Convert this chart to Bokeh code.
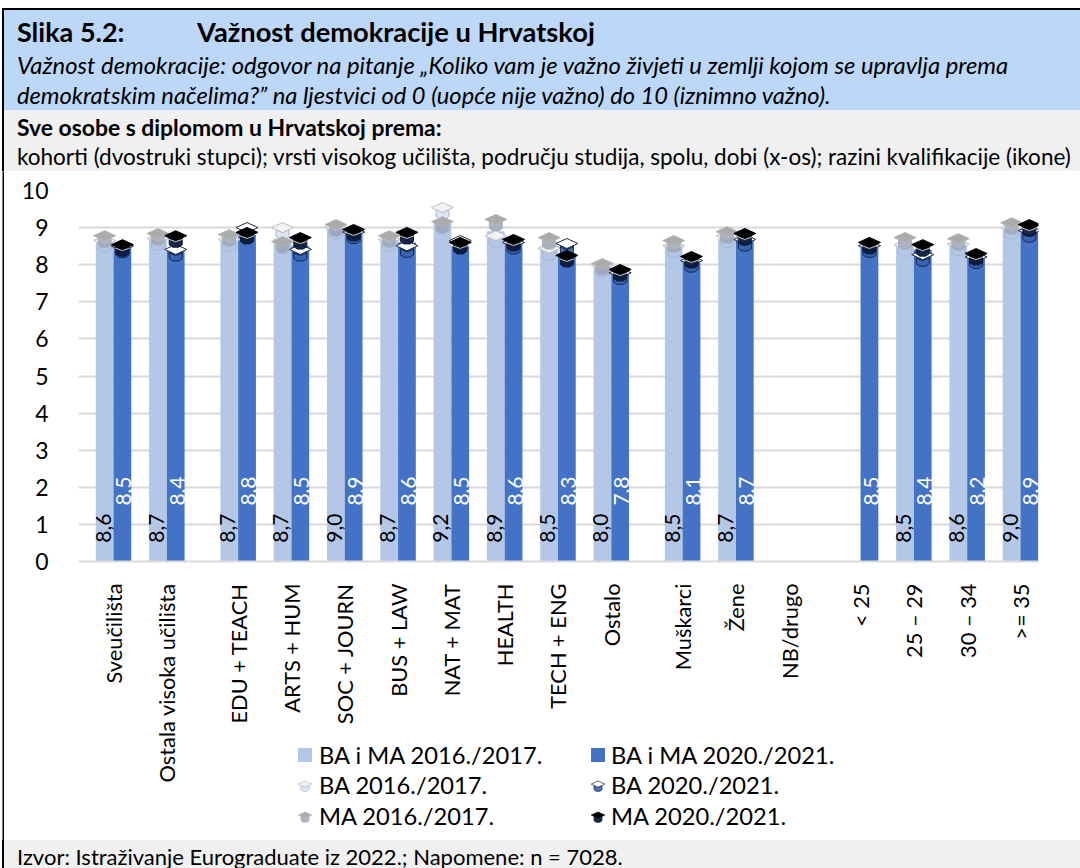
import math
from bokeh.embed import file_html
from bokeh.resources import INLINE
from bokeh.plotting import figure
from bokeh.layouts import column
from bokeh.models import Range1d, FixedTicker, Div
from bokeh.core.properties import value

FONT = "Lato"

groups = [
    ["Sveučilišta", "Ostala visoka učilišta"],
    ["EDU + TEACH", "ARTS + HUM", "SOC + JOURN", "BUS + LAW", "NAT + MAT", "HEALTH", "TECH + ENG", "Ostalo"],
    ["Muškarci", "Žene", "NB/drugo"],
    ["< 25", "25 – 29", "30 – 34", ">= 35"],
]
N = None
ba_ma_2016 = [8.6, 8.7, 8.7, 8.7, 9.0, 8.7, 9.2, 8.9, 8.5, 8.0, 8.5, 8.7, N, N, 8.5, 8.6, 9.0]
ba_ma_2020 = [8.5, 8.4, 8.8, 8.5, 8.9, 8.6, 8.5, 8.6, 8.3, 7.8, 8.1, 8.7, N, 8.5, 8.4, 8.2, 8.9]
ba_2016 = [8.57, 8.63, 8.6, 8.92, 8.92, 8.6, 9.46, 8.7, 8.36, 7.9, 8.43, 8.7, N, N, 8.46, 8.47, 8.92]
ma_2016 = [8.7, 8.76, 8.73, 8.54, 9.0, 8.7, 9.08, 9.14, 8.65, 7.95, 8.57, 8.81, N, N, 8.65, 8.62, 9.05]
ba_2020 = [8.42, 8.33, 8.92, 8.33, 8.8, 8.43, 8.57, 8.52, 8.49, 7.7, 8.03, 8.6, N, 8.43, 8.19, 8.13, 8.84]
ma_2020 = [8.46, 8.7, 8.79, 8.65, 8.87, 8.79, 8.52, 8.6, 8.17, 7.79, 8.14, 8.76, N, 8.52, 8.46, 8.22, 9.0]

legend_labels = ["BA i MA 2016./2017.", "BA i MA 2020./2021.", "BA 2016./2017.", "BA 2020./2021.", "MA 2016./2017.", "MA 2020./2021."]
title_no = "Slika 5.2:"
title = "Važnost demokracije u Hrvatskoj"
sub1 = "Važnost demokracije: odgovor na pitanje „Koliko vam je važno živjeti u zemlji kojom se upravlja prema"
sub2 = "demokratskim načelima?” na ljestvici od 0 (uopće nije važno) do 10 (iznimno važno)."
head1 = "Sve osobe s diplomom u Hrvatskoj prema:"
head2 = "kohorti (dvostruki stupci); vrsti visokog učilišta, području studija, spolu, dobi (x-os); razini kvalifikacije (ikone)"
foot = "Izvor: Istraživanje Eurograduate iz 2022.; Napomene: n = 7028."

# layout (page pixels)
W = 1080
HEAD_H, CHART_B, PAGE_H = 171, 840, 868
FL, FR, FT, FB = 78, 1038, 190, 561
GAP = 0.338
BW = 0.333
LIGHT, DARK = "#B4C7E7", "#4472C4"


def box(l, t, w, h, c):
    return f'<div style="position:absolute;left:{l}px;top:{t}px;width:{w}px;height:{h}px;background:{c}"></div>'


def line(x, y, s, size, style=""):
    return (f'<div style="position:absolute;left:{x}px;top:{y-11}px;height:22px;line-height:22px;white-space:nowrap;'
            f'font-family:{FONT};font-size:{size}px;color:#000;{style}">{s}</div>')


def panel(inner, w, h, **kw):
    return Div(text=f'<div style="position:relative;width:{w}px;height:{h}px">{inner}</div>',
               width=w, height=h, margin=kw.pop("margin", 0), **kw)


B = "font-weight:bold;"
I = "font-style:italic;"
head_html = (box(3, 9, W - 3, 101, "#BDD7F8") + box(3, 110, W - 3, HEAD_H - 110, "#F0F0F0")
             + box(2, 8, W - 2, 1.5, "#000") + box(2, 8, 1.5, HEAD_H - 8, "#000")
             + line(17, 32, title_no, 27, B) + line(197, 32, title, 27.3, B)
             + line(17, 65, sub1, 23.8, I) + line(17, 95, sub2, 23.7, I)
             + line(17, 127, head1, 22.9, B) + line(17, 157, head2, 22.5))
header = panel(head_html, W, HEAD_H)

# chart
pos, labels = [], []
for gi, g in enumerate(groups):
    for name in g:
        pos.append(len(pos) + gi * GAP)
        labels.append(name)
xr = Range1d(-0.657, pos[-1] + 0.338)
yr = Range1d(0, 10)
px_x = (xr.end - xr.start) / (FR - FL)
px_y = 10 / (FB - FT)

p = figure(width=W, height=CHART_B - HEAD_H, x_range=xr, y_range=yr, output_backend="svg", toolbar_location=None,
           min_border_left=FL, min_border_right=W - FR, min_border_top=FT - HEAD_H, min_border_bottom=CHART_B - FB,
           outline_line_color=None, background_fill_color="white", border_fill_color="white")

ax = p.xaxis[0]
ax.ticker = FixedTicker(ticks=pos)
ax.major_label_overrides = {x: n for x, n in zip(pos, labels)}
ax.major_label_orientation = math.pi / 2
ax.major_label_text_font = FONT
ax.major_label_text_font_size = "21.8px"
ax.major_label_text_color = "#000000"
ax.major_label_standoff = 16
ax.major_tick_line_color = None
ax.minor_tick_line_color = None
ax.axis_line_color = "#D9D9D9"
ax.axis_line_width = 2

ay = p.yaxis[0]
ay.ticker = FixedTicker(ticks=list(range(0, 11)))
ay.major_label_text_font = FONT
ay.major_label_text_font_size = "23px"
ay.major_label_text_color = "#000000"
ay.major_label_standoff = 24
ay.major_tick_line_color = None
ay.minor_tick_line_color = None
ay.axis_line_color = None

p.xgrid.visible = False
p.ygrid.ticker = FixedTicker(ticks=list(range(0, 11)))
p.ygrid.grid_line_color = "#D9D9D9"
p.ygrid.grid_line_width = 2


def bars(vals, off, color):
    d = [(x + off, v) for x, v in zip(pos, vals) if v is not None]
    p.vbar(x=[a for a, _ in d], top=[b for _, b in d], width=BW, fill_color=color, line_color=None)


bars(ba_ma_2016, -BW / 2, LIGHT)
bars(ba_ma_2020, BW / 2, DARK)


def val_labels(vals, off, color, y, size):
    d = [(x + off, f"{v:.1f}".replace(".", ",")) for x, v in zip(pos, vals) if v is not None]
    p.text(x=[a for a, _ in d], y=[y] * len(d), text=[b for _, b in d], angle=math.pi / 2,
           text_align="center", text_baseline="middle", text_color=color,
           text_font=value(FONT), text_font_size=f"{size}px")


val_labels(ba_ma_2016, -BW / 2 - 0.03, "#000000", 0.9, 21)
val_labels(ba_ma_2020, BW / 2 + 0.03, "#FFFFFF", 1.9, 21)

# graduation caps: shape in screen pixels, position from the data
TOP = [(-11, 3), (0, 8), (11, 3), (0, -2)]
BODY = [(-6.5, 1), (0, -2), (6.5, 1), (6.5, -6), (3, -8.5), (-3, -8.5), (-6.5, -6)]
BAND = [(-7, -0.5), (0, -3), (7, -0.5)]
STY = {
    "ba16": dict(top_fill="#F2F2F2", top_line="#BFBFBF", body_fill="#B4C7E7", body_alpha=0.45, body_line="#A6B6D4"),
    "ma16": dict(top_fill="#ABABAB", top_line="#B5B5B5", body_fill="#98A3B5", body_alpha=0.8, body_line="#A8B0BF"),
    "ba20": dict(top_fill="#FFFFFF", top_line="#1F2A44", body_fill="#3A62AE", body_alpha=0.9, body_line="#14264F", band_line="#14264F"),
    "ma20": dict(top_fill="#000000", top_line="#000000", body_fill="#0A1A3C", body_alpha=0.95, body_line="#0A1A3C", band_line="#C9C4B4"),
}


def caps(xs, ys, top_fill, top_line, body_fill, body_alpha, body_line, band_line=None):
    def shape(s):
        return ([[x + a * px_x for a, _ in s] for x in xs], [[y + b * px_y for _, b in s] for y in ys])
    bx, by = shape(BODY)
    p.patches(bx, by, fill_color=body_fill, fill_alpha=body_alpha, line_color=body_line, line_width=1)
    tx, ty = shape(TOP)
    p.patches(tx, ty, fill_color=top_fill, line_color=top_line, line_width=1)
    if band_line:
        lx, ly = shape(BAND)
        p.multi_line(lx, ly, line_color=band_line, line_width=1)


def series(vals, off, key):
    d = [(x + off, v) for x, v in zip(pos, vals) if v is not None]
    caps([a for a, _ in d], [b for _, b in d], **STY[key])


series(ba_2016, -BW / 2, "ba16")
series(ma_2016, -BW / 2, "ma16")
series(ba_2020, BW / 2, "ba20")
series(ma_2020, BW / 2, "ma20")

# outer frame line, beside the plot area
p.multi_line([[xr.start + (2.75 - FL) * px_x] * 2], [[(FB - HEAD_H) * px_y, (FB - CHART_B) * px_y]],
             line_color="#000000", line_width=1.5, level="overlay")


# legend: a panel laid over the free space under the tick labels
def cap_svg(x, y, key):
    s = STY[key]
    k = 0.62

    def pts(shape):
        return " ".join(f"{12 + a * k:.1f},{12 - b * k:.1f}" for a, b in shape)
    out = (f'<svg style="position:absolute;left:{x-12}px;top:{y-12}px" width="24" height="24">'
           f'<polygon points="{pts(BODY)}" fill="{s["body_fill"]}" fill-opacity="{s["body_alpha"]}" stroke="{s["body_line"]}" stroke-width="0.7"/>'
           f'<polygon points="{pts(TOP)}" fill="{s["top_fill"]}" stroke="{s["top_line"]}" stroke-width="0.7"/></svg>')
    return out


LG_L, LG_T = 280, 738
LG_W, LG_H = 600, 97
ROWS = [755 - LG_T, 785 - LG_T, 816 - LG_T]
COLS = [(298 - LG_L, 319 - LG_L), (591 - LG_L, 611 - LG_L)]
lg_html = box(COLS[0][0], ROWS[0] - 7, 14, 14, LIGHT) + box(COLS[1][0], ROWS[0] - 7, 14, 14, DARK)
for col, row, key in [(0, 1, "ba16"), (1, 1, "ba20"), (0, 2, "ma16"), (1, 2, "ma20")]:
    lg_html += cap_svg(COLS[col][0] + 7, ROWS[row] + 1, key)
for i, s in enumerate(legend_labels):
    lg_html += line(COLS[i % 2][1], ROWS[i // 2], s, 23.7)
legend = panel(lg_html, LG_W, LG_H, margin=(LG_T - CHART_B, 0, CHART_B - LG_T - LG_H, LG_L))

# footer
foot_h = PAGE_H - CHART_B
footer = panel(box(3, 0, W - 3, foot_h, "#F0F0F0") + box(2, 0, 1.5, foot_h, "#000") + line(17, 857 - CHART_B, foot, 22),
               W, foot_h)

page = column(header, p, legend, footer, spacing=0)
open("out.html", "w").write(file_html(page, INLINE))
